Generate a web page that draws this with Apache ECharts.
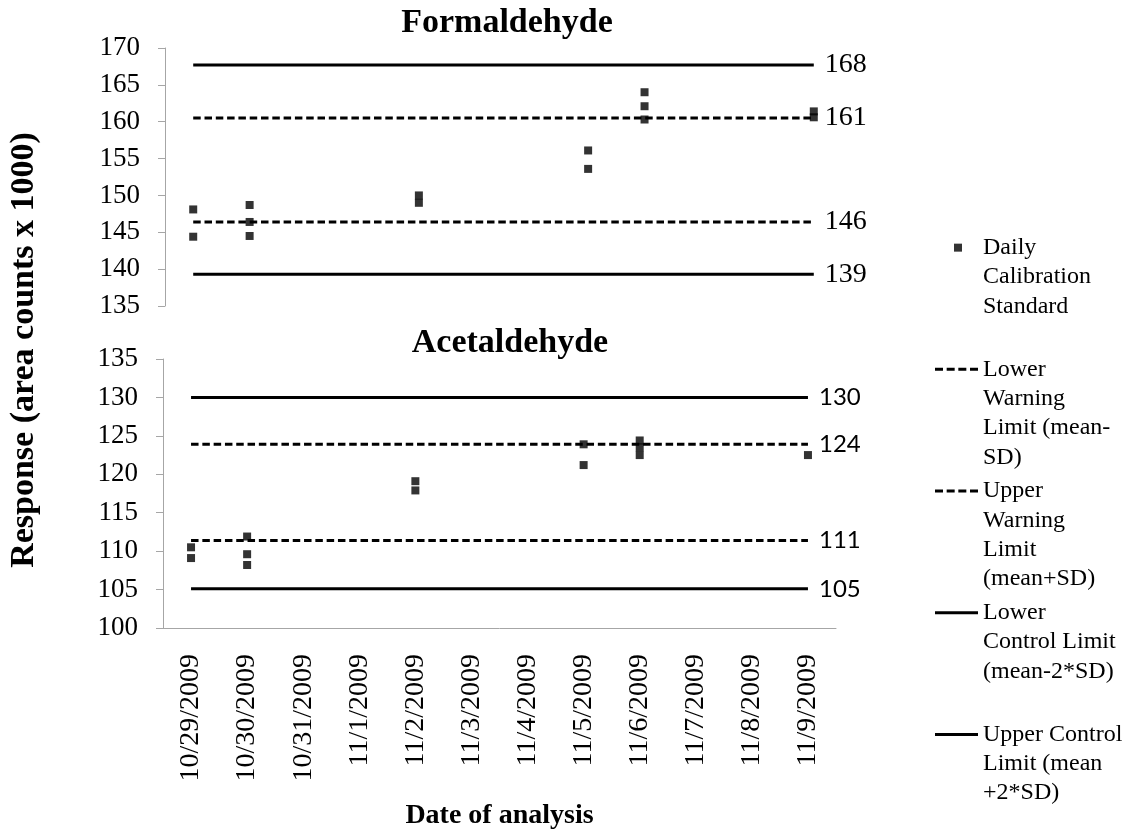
<!DOCTYPE html>
<html>
<head>
<meta charset="utf-8">
<script src="https://cdn.jsdelivr.net/npm/echarts@6/dist/echarts.min.js"></script>
<style>
html,body{margin:0;padding:0;background:#fff;}
#chart{width:1137px;height:831px;}
</style>
</head>
<body>
<div id="chart"></div>
<script>
// ---- data ----
const dates = ['10/29/2009','10/30/2009','10/31/2009','11/1/2009','11/2/2009','11/3/2009','11/4/2009','11/5/2009','11/6/2009','11/7/2009','11/8/2009','11/9/2009'];

const formPointDates = ['10/29/2009','10/29/2009','10/30/2009','10/30/2009','10/30/2009','11/2/2009','11/2/2009','11/5/2009','11/5/2009','11/6/2009','11/6/2009','11/6/2009','11/9/2009','11/9/2009'];
const formPointValues = [148.1,144.4,148.7,146.4,144.5,150.0,149.0,156.1,153.6,164.0,162.1,160.3,161.4,160.6];

const acetPointDates = ['10/29/2009','10/29/2009','10/30/2009','10/30/2009','10/30/2009','11/2/2009','11/2/2009','11/5/2009','11/5/2009','11/6/2009','11/6/2009','11/6/2009','11/9/2009'];
const acetPointValues = [110.5,109.1,111.9,109.6,108.2,119.1,117.9,123.9,121.2,124.4,123.5,122.5,122.5];

const seriesNames = ['Daily Calibration Standard','Lower Warning Limit (mean-SD)','Upper Warning Limit (mean+SD)','Lower Control Limit (mean-2*SD)','Upper Control Limit (mean+2*SD)'];
const legendLabels = ['Daily\nCalibration\nStandard\n ','Lower\nWarning\nLimit (mean-\nSD)','Upper\nWarning\nLimit\n(mean+SD)','Lower\nControl Limit\n(mean-2*SD)\n ','Upper Control\nLimit (mean\n+2*SD)\n '];

// limit order: LWL, UWL, LCL, UCL
const formLimitValues = [146.4, 160.5, 139.3, 167.7];
const formLimitLabels = ['146','161','139','168'];
const acetLimitValues = [111.4, 123.9, 105.1, 130.0];
const acetLimitLabels = ['111','124','105','130'];

const chartTitles = ['Formaldehyde','Acetaldehyde'];
const yTicksTop = [135, 170, 5];
const yTicksBottom = [100, 135, 5];

// ---- build ----
const SERIF = 'Liberation Serif';
const SANS = 'Lato';
const AXIS_GRAY = '#a6a6a6';
const dashPattern = [7.5, 3.8];

function pairs(ds, vs) { return ds.map((d, i) => [d, vs[i]]); }

function limitSeries(gi, values, labels, labelFont) {
  return values.map((v, i) => ({
    name: seriesNames[i + 1],
    type: 'line',
    xAxisIndex: gi, yAxisIndex: gi,
    data: [[dates[0], v], [dates[dates.length - 1], v]],
    symbol: 'none',
    silent: true,
    z: 2,
    itemStyle: { color: '#000' },
    lineStyle: { color: '#000', width: 3, type: i < 2 ? dashPattern : 'solid' },
    endLabel: {
      show: true,
      formatter: () => labels[i],
      distance: 11,
      color: '#000',
      fontFamily: labelFont.family,
      fontSize: labelFont.size
    }
  }));
}

const H = 117.2, W = 43, c = 14.65;
const iconSquare = `path://M0 0M${W} ${H}M19 ${c-4}h8v8h-8z`;
const iconDash = `path://M0 0M${W} ${H}M0 ${c-1.5}h8v3h-8zM11.67 ${c-1.5}h8v3h-8zM23.33 ${c-1.5}h8v3h-8zM35 ${c-1.5}h8v3h-8z`;
const iconSolid = `path://M0 0M${W} ${H}M0 ${c-1.5}h${W}v3h-${W}z`;
const legendIcons = [iconSquare, iconDash, iconDash, iconSolid, iconSolid];

function yAxis(gi, ticks) {
  return {
    type: 'value', gridIndex: gi,
    min: ticks[0], max: ticks[1], interval: ticks[2],
    axisLine: { show: true, lineStyle: { color: AXIS_GRAY, width: 1 } },
    axisTick: { show: true, length: 7, lineStyle: { color: AXIS_GRAY } },
    splitLine: { show: false },
    axisLabel: { margin: 25, color: '#000', fontFamily: SERIF, fontSize: 27 }
  };
}

const option = {
  animation: false,
  backgroundColor: '#fff',
  textStyle: { fontFamily: SERIF },
  title: [
    { text: chartTitles[0], left: 507, top: 6, padding: 0, textAlign: 'center',
      textStyle: { fontFamily: SERIF, fontWeight: 'bold', fontSize: 34, color: '#000' } },
    { text: chartTitles[1], left: 510, top: 326, padding: 0, textAlign: 'center',
      textStyle: { fontFamily: SERIF, fontWeight: 'bold', fontSize: 34, color: '#000' } }
  ],
  grid: [
    { left: 165, top: 48, width: 677, height: 258, outerBoundsMode: 'none', containLabel: false },
    { left: 163, top: 359, width: 673, height: 269, outerBoundsMode: 'none', containLabel: false }
  ],
  xAxis: [
    { type: 'category', gridIndex: 0, data: dates, boundaryGap: true, show: false },
    { type: 'category', gridIndex: 1, data: dates, boundaryGap: true,
      axisLine: { show: true, lineStyle: { color: AXIS_GRAY, width: 1 } },
      axisTick: { show: false },
      axisLabel: { rotate: 90, margin: 26, color: '#000', fontFamily: SERIF, fontSize: 28, interval: 0 },
      name: 'Date of analysis', nameLocation: 'middle', nameGap: 174,
      nameTextStyle: { fontFamily: SERIF, fontWeight: 'bold', fontSize: 28, color: '#000' }
    }
  ],
  yAxis: [ yAxis(0, yTicksTop), yAxis(1, yTicksBottom) ],
  legend: {
    orient: 'vertical', left: 935, top: 233, height: 720, padding: 0,
    itemGap: 4.5, itemWidth: W, itemHeight: H,
    symbolKeepAspect: true,
    itemStyle: { borderWidth: 0, color: '#000' },
    textStyle: { fontFamily: SERIF, fontSize: 24, lineHeight: 29.3, color: '#000' },
    formatter: (name) => legendLabels[seriesNames.indexOf(name)],
    data: seriesNames.map((n, i) => ({ name: n, icon: legendIcons[i] }))
  },
  graphic: [
    { type: 'text', x: 24, y: 350, rotation: Math.PI / 2,
      style: { text: 'Response (area counts x 1000)', fontFamily: SERIF, fontWeight: 'bold', fontSize: 34,
               align: 'center', verticalAlign: 'middle', fill: '#000' } }
  ],
  series: [
    { name: seriesNames[0], type: 'scatter', xAxisIndex: 0, yAxisIndex: 0,
      symbol: 'rect', symbolSize: 8, z: 5, itemStyle: { color: '#000' },
      data: pairs(formPointDates, formPointValues) },
    ...limitSeries(0, formLimitValues, formLimitLabels, { family: SERIF, size: 28 }),
    { name: seriesNames[0], type: 'scatter', xAxisIndex: 1, yAxisIndex: 1,
      symbol: 'rect', symbolSize: 8, z: 5, itemStyle: { color: '#000' },
      data: pairs(acetPointDates, acetPointValues) },
    ...limitSeries(1, acetLimitValues, acetLimitLabels, { family: SANS, size: 24 })
  ]
};

const chart = echarts.init(document.getElementById('chart'), null, { renderer: 'canvas' });
chart.setOption(option);
</script>
</body>
</html>
